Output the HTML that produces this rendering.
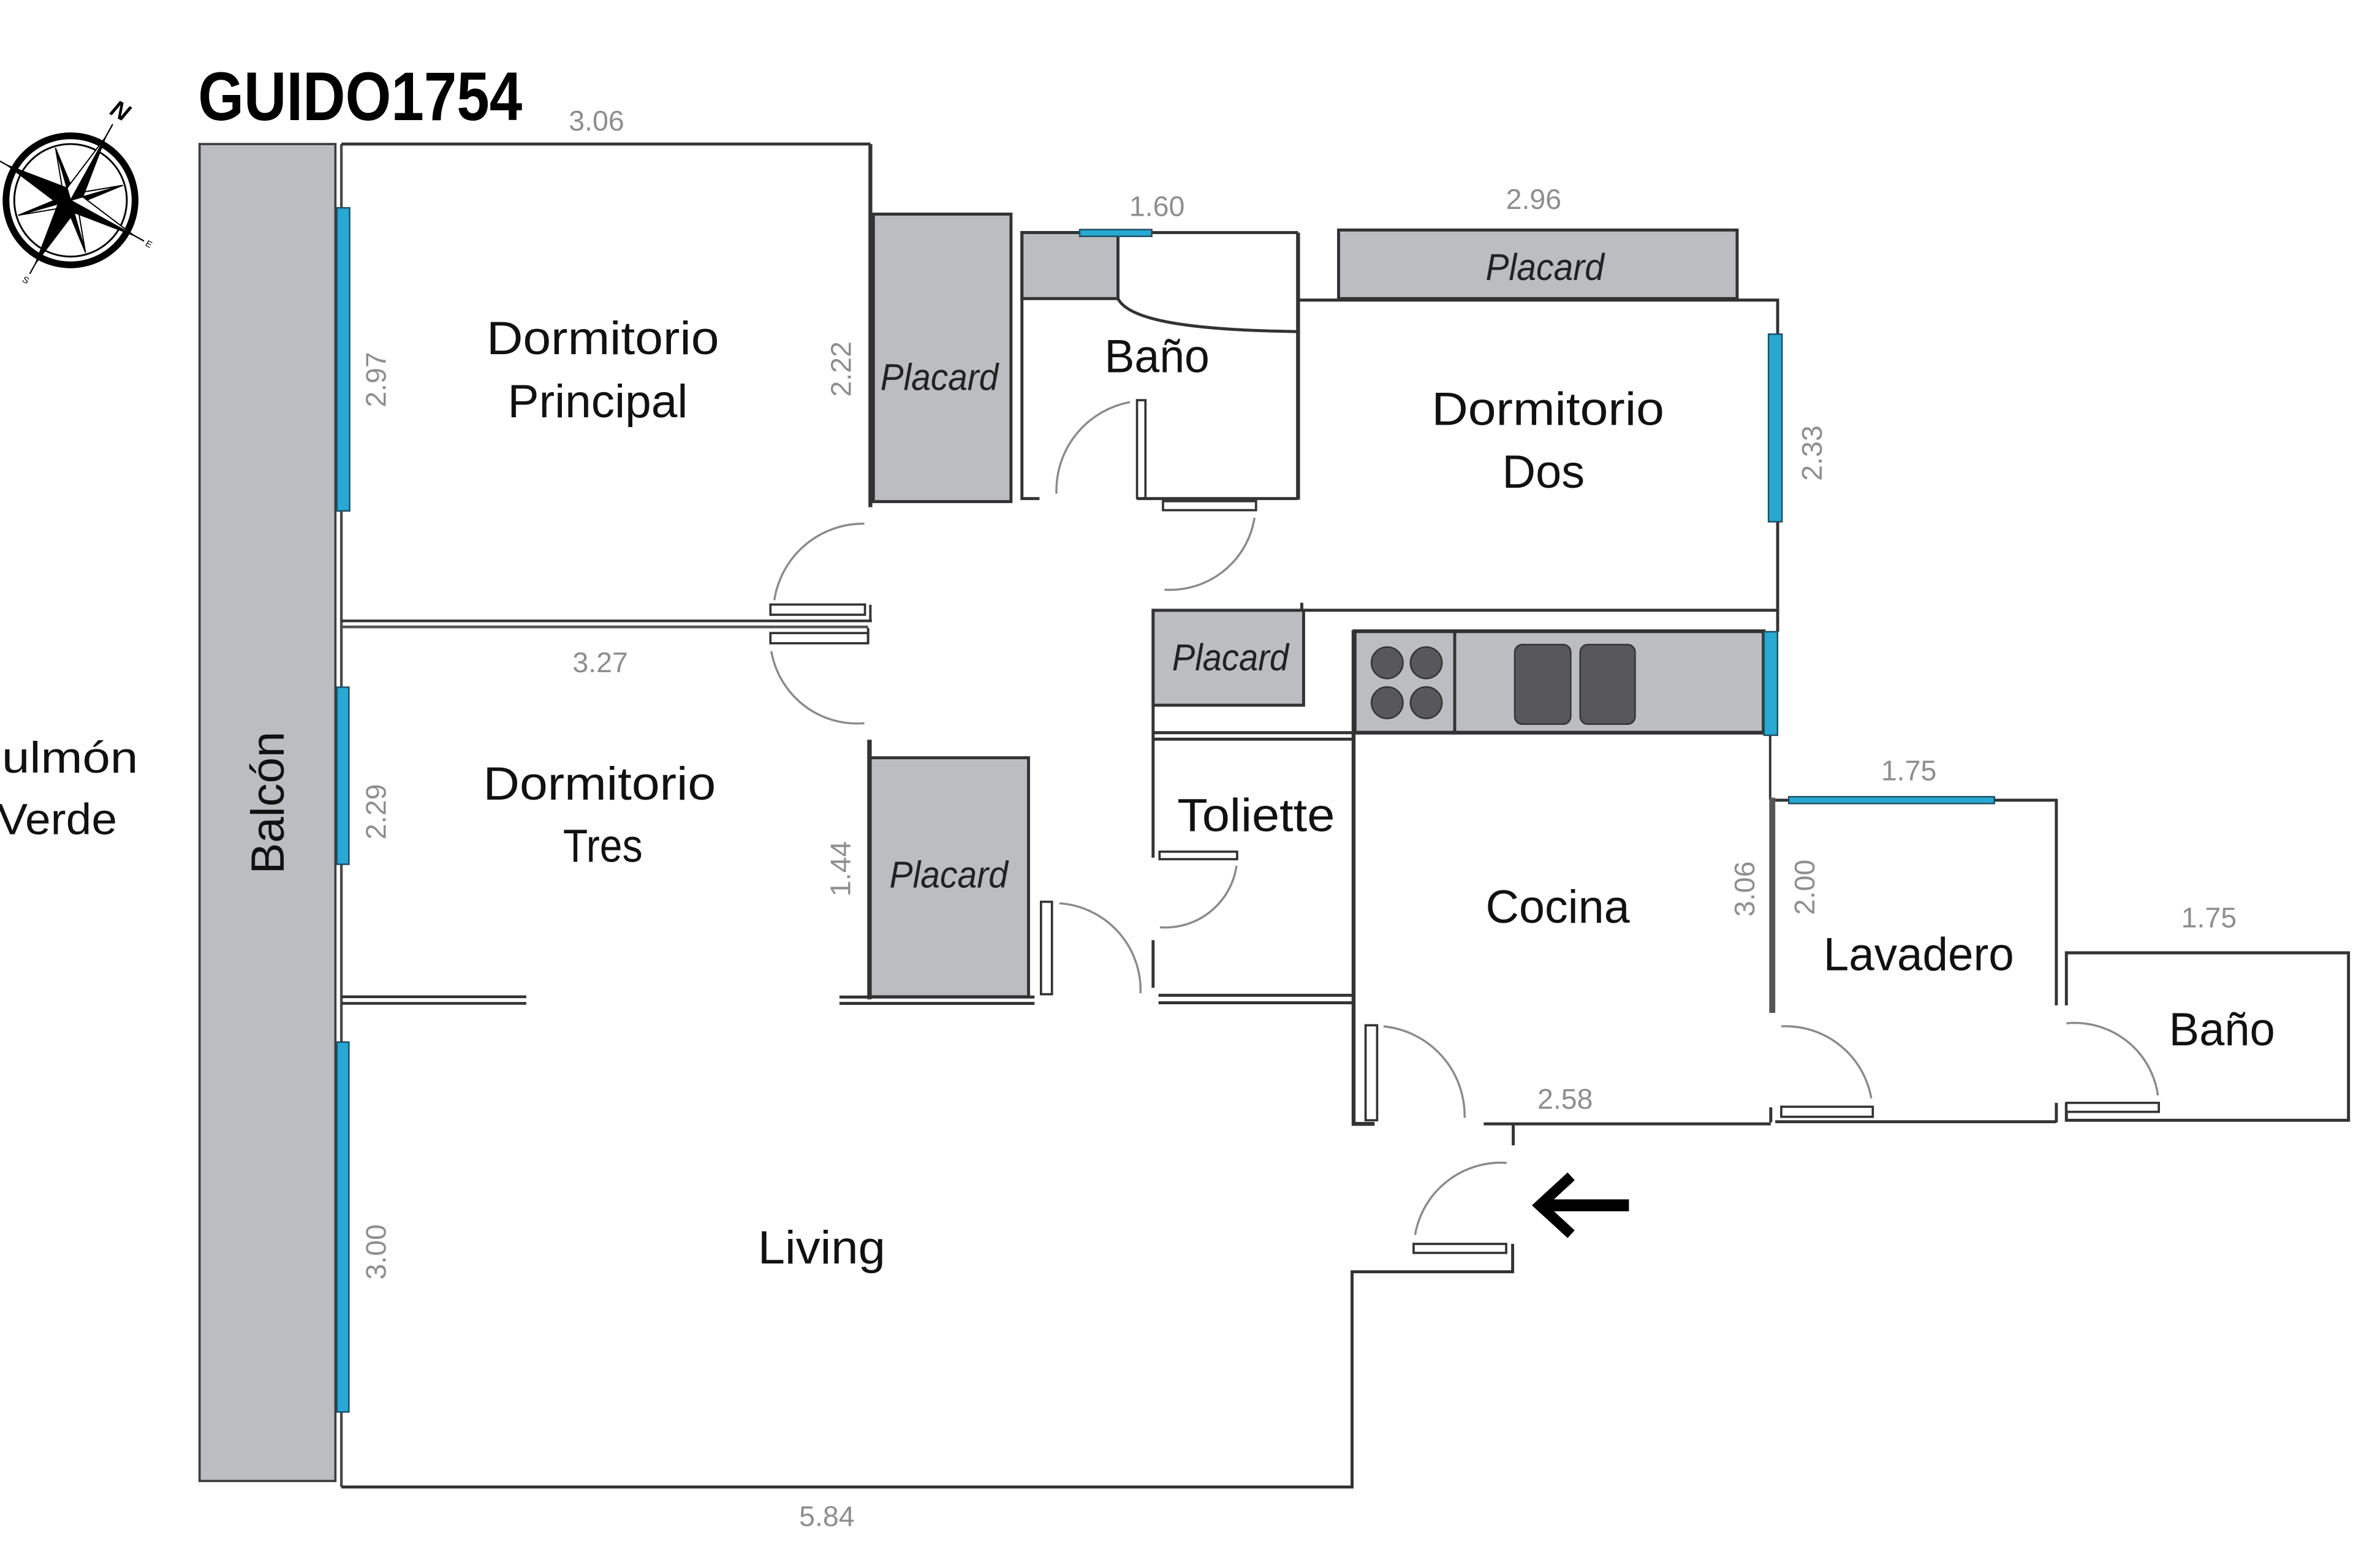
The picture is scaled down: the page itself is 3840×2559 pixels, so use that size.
<!DOCTYPE html>
<html><head><meta charset="utf-8"><style>
html,body{margin:0;padding:0;background:#fff;}
svg{display:block;}
</style></head><body>
<svg width="3840" height="2559" viewBox="0 0 1568 1045" preserveAspectRatio="none" xmlns="http://www.w3.org/2000/svg">
<rect width="1568" height="1045" fill="#fff"/>

<!-- Compass -->
<g transform="translate(47,133.5) rotate(29)">
  <circle r="43" fill="none" stroke="#000" stroke-width="4.5"/>
  <circle r="37.5" fill="none" stroke="#000" stroke-width="1.2"/>
  <line x1="0" y1="-58" x2="0" y2="56" stroke="#000" stroke-width="0.9"/>
  <line x1="-56" y1="0" x2="56" y2="0" stroke="#000" stroke-width="0.9"/>
  <g stroke="#000" stroke-width="0.8" stroke-linejoin="round">
    <g transform="rotate(45)"><polygon points="0,0 0,-36 3.5,-5" fill="#000"/><polygon points="0,0 0,-36 -3.5,-5" fill="#fff"/></g>
    <g transform="rotate(135)"><polygon points="0,0 0,-36 3.5,-5" fill="#000"/><polygon points="0,0 0,-36 -3.5,-5" fill="#fff"/></g>
    <g transform="rotate(225)"><polygon points="0,0 0,-36 3.5,-5" fill="#000"/><polygon points="0,0 0,-36 -3.5,-5" fill="#fff"/></g>
    <g transform="rotate(315)"><polygon points="0,0 0,-36 3.5,-5" fill="#000"/><polygon points="0,0 0,-36 -3.5,-5" fill="#fff"/></g>
    <g><polygon points="0,0 0,-48 6,-6" fill="#000"/><polygon points="0,0 0,-48 -6,-6" fill="#fff"/></g>
    <g transform="rotate(90)"><polygon points="0,0 0,-48 6,-6" fill="#000"/><polygon points="0,0 0,-48 -6,-6" fill="#fff"/></g>
    <g transform="rotate(180)"><polygon points="0,0 0,-48 6,-6" fill="#000"/><polygon points="0,0 0,-48 -6,-6" fill="#000"/></g>
    <g transform="rotate(270)"><polygon points="0,0 0,-48 6,-6" fill="#000"/><polygon points="0,0 0,-48 -6,-6" fill="#000"/></g>
  </g>
</g>
<g font-family="'Liberation Sans', sans-serif" fill="#000">
  <text transform="translate(80,74) rotate(29)" font-size="16" font-weight="bold" font-style="italic" text-anchor="middle" dominant-baseline="central">N</text>
  <text transform="translate(99,163) rotate(29)" font-size="6" text-anchor="middle" dominant-baseline="central">E</text>
  <text transform="translate(17,187) rotate(29)" font-size="6" text-anchor="middle" dominant-baseline="central">S</text>
</g>

<!-- Title -->
<text x="132" y="80" font-family="'Liberation Sans', sans-serif" font-size="46" font-weight="bold" fill="#000" textLength="216" lengthAdjust="spacingAndGlyphs">GUIDO1754</text>

<!-- Pulmon Verde -->
<g font-family="'Liberation Sans', sans-serif" font-size="29" fill="#111">
  <text x="-21" y="515" textLength="113" lengthAdjust="spacingAndGlyphs">Pulmón</text>
  <text x="-2" y="556" textLength="80" lengthAdjust="spacingAndGlyphs">Verde</text>
</g>

<!-- Balcony -->
<rect x="133" y="96" width="90.5" height="891" fill="#bcbdc1" stroke="#3d3d3d" stroke-width="1.5"/>
<text transform="translate(189,535) rotate(-90)" text-anchor="middle" font-family="'Liberation Sans', sans-serif" font-size="31" fill="#111" textLength="95" lengthAdjust="spacingAndGlyphs">Balcón</text>

<!-- Grey fills -->
<g fill="#bcbdc1" stroke="#333" stroke-width="2">
  <rect x="582" y="142.7" width="91.7" height="191.6"/>
  <rect x="681" y="155" width="64" height="44"/>
  <rect x="892" y="153.3" width="265.6" height="45.7"/>
  <rect x="768.4" y="406.7" width="100.3" height="63.3"/>
  <rect x="579.4" y="505" width="106" height="159.3"/>
  <rect x="902.7" y="420.7" width="272.6" height="67.6" stroke-width="2.5"/>
</g>
<!-- Kitchen details -->
<line x1="969.4" y1="420.7" x2="969.4" y2="488.3" stroke="#333" stroke-width="2"/>
<g fill="#58585b" stroke="#333" stroke-width="1">
  <circle cx="924.4" cy="441.7" r="10.5"/>
  <circle cx="950.4" cy="441.7" r="10.5"/>
  <circle cx="924.4" cy="468.3" r="10.5"/>
  <circle cx="950.4" cy="468.3" r="10.5"/>
  <rect x="1009.4" y="429.6" width="37.3" height="53" rx="5"/>
  <rect x="1053" y="429.6" width="36.6" height="53" rx="5"/>
</g>

<!-- Walls -->
<g fill="none" stroke="#333" stroke-width="2" stroke-linecap="butt">
  <line x1="227.5" y1="96" x2="227.5" y2="991" stroke="#4a4a4a" stroke-width="1.8"/>
  <path d="M227.5,96 H580"/>
  <path d="M580,96 V338" stroke-width="2.6"/>
  <path d="M227.5,413.8 H581" stroke-width="1.8"/>
  <path d="M227.5,417.8 H578.5" stroke-width="1.8" stroke="#555"/>
  <path d="M580,403 V414" stroke-width="1.6"/>
  <path d="M578.5,418.5 V428.7" stroke-width="1.6"/>
  <path d="M227.5,664.3 H350.7" stroke-width="1.8"/>
  <path d="M227.5,668.7 H350.7" stroke-width="1.8"/>
  <path d="M227.5,991 H901 V847.6 H1008 V829"/>
  <!-- Bano -->
  <path d="M692.7,332.3 H681 V155 H865"/>
  <path d="M865,155 V333" stroke-width="2.6"/>
  <path d="M757.7,332.3 H865"/>
  <path d="M745,199 C752,213 790,220 865,221"/>
  <!-- Dorm Dos -->
  <path d="M866,200 H1184.6 V421"/>
  <path d="M768.4,406.7 H1184.6"/>
  <path d="M867.5,401.7 V407"/>
  <path d="M768.4,406.7 V571.6"/>
  <path d="M768.4,626.6 V658.3"/>
  <!-- Toliette -->
  <path d="M768.4,488.3 H902"/>
  <path d="M768.4,492.6 H902"/>
  <path d="M772,663.3 H901"/>
  <path d="M772,668.3 H901"/>
  <path d="M902,420 V749 H916" stroke-width="2.6"/>
  <!-- placard 1.44 -->
  <path d="M579.4,493 V666" stroke-width="3"/>
  <path d="M559.4,664.5 H689.4"/>
  <path d="M559.4,668.7 H689.4"/>
  <!-- kitchen bottom, entry -->
  <path d="M988.7,749 H1180"/>
  <path d="M1008.4,749 V763.3"/>
  <path d="M1179.6,490 V533" stroke-width="1.6"/>
  <path d="M1181,531.6 V675" stroke="#555" stroke-width="4"/>
  <!-- Lavadero -->
  <path d="M1183,533.3 H1370.3 V670"/>
  <path d="M1370.3,735 V748"/>
  <path d="M1183,747.6 H1370.3"/>
  <path d="M1180,738 V748"/>
  <!-- Bano 2 -->
  <path d="M1377,670 V635 H1565 V746.6 H1377 V735"/>
</g>

<!-- Windows -->
<g fill="#27a9d3" stroke="#1d4f62" stroke-width="1">
  <rect x="224.5" y="138.5" width="8.5" height="202"/>
  <rect x="224.5" y="458" width="8" height="118"/>
  <rect x="224.5" y="694.5" width="8" height="246.5"/>
  <rect x="719.5" y="153" width="48" height="4.5"/>
  <rect x="1178.5" y="222.7" width="9" height="125"/>
  <rect x="1175.5" y="421" width="9" height="69"/>
  <rect x="1192" y="531" width="137" height="4.5"/>
</g>

<!-- Door leaves -->
<g fill="#fff" stroke="#333" stroke-width="1.5">
  <rect x="513.4" y="402.9" width="63" height="6.8"/>
  <rect x="513.4" y="421.9" width="65" height="6.8"/>
  <rect x="757.7" y="266.7" width="5.6" height="65.3"/>
  <rect x="775" y="334" width="62" height="6"/>
  <rect x="693.7" y="601" width="7.3" height="61.6"/>
  <rect x="772.7" y="567.6" width="51.7" height="5"/>
  <rect x="910" y="683.3" width="7.7" height="63.3"/>
  <rect x="942" y="829" width="61.7" height="6"/>
  <rect x="1187" y="737.6" width="61" height="6.7"/>
  <rect x="1377" y="735" width="61.6" height="6"/>
</g>

<!-- Door arcs -->
<g fill="none" stroke="#8a8a8a" stroke-width="1.4">
  <path d="M516,400 A60,60 0 0 1 576,349"/>
  <path d="M514,434 A58,58 0 0 0 576,482"/>
  <path d="M753,268 A60,60 0 0 0 704,329"/>
  <path d="M836,345 A57,57 0 0 1 776,393"/>
  <path d="M706,602 A58,58 0 0 1 760,662"/>
  <path d="M824,577 A48,48 0 0 1 773,618"/>
  <path d="M922,684 A60,60 0 0 1 976,745"/>
  <path d="M943,823 A58,58 0 0 1 1004,775"/>
  <path d="M1187,684 A58,58 0 0 1 1247,732"/>
  <path d="M1377,682 A56,56 0 0 1 1438,730"/>
</g>

<!-- Entry arrow -->
<path d="M1028,803.3 H1085.5" stroke="#000" stroke-width="8"/>
<polyline points="1047,784 1026,803.3 1047,822.5" fill="none" stroke="#000" stroke-width="7" stroke-linejoin="miter"/>

<!-- Room labels -->
<g font-family="'Liberation Sans', sans-serif" font-size="31" fill="#111" text-anchor="middle">
  <text x="401.7" y="236" textLength="155" lengthAdjust="spacingAndGlyphs">Dormitorio</text>
  <text x="398.3" y="278" textLength="120" lengthAdjust="spacingAndGlyphs">Principal</text>
  <text x="771" y="248" textLength="70" lengthAdjust="spacingAndGlyphs">Baño</text>
  <text x="1031.5" y="283.3" textLength="155" lengthAdjust="spacingAndGlyphs">Dormitorio</text>
  <text x="1028.5" y="325" textLength="55" lengthAdjust="spacingAndGlyphs">Dos</text>
  <text x="399.5" y="533" textLength="155" lengthAdjust="spacingAndGlyphs">Dormitorio</text>
  <text x="401.7" y="574.4" textLength="53" lengthAdjust="spacingAndGlyphs">Tres</text>
  <text x="837" y="554" textLength="105" lengthAdjust="spacingAndGlyphs">Toliette</text>
  <text x="1038" y="615" textLength="96" lengthAdjust="spacingAndGlyphs">Cocina</text>
  <text x="1278.6" y="646.6" textLength="127" lengthAdjust="spacingAndGlyphs">Lavadero</text>
  <text x="1480.7" y="696.6" textLength="70.7" lengthAdjust="spacingAndGlyphs">Baño</text>
  <text x="547.5" y="842" textLength="85" lengthAdjust="spacingAndGlyphs">Living</text>
</g>

<!-- Placard labels -->
<g font-family="'Liberation Sans', sans-serif" font-size="25" font-style="italic" fill="#222" text-anchor="middle">
  <text x="626" y="260" textLength="78.6" lengthAdjust="spacingAndGlyphs">Placard</text>
  <text x="1029.5" y="186.6" textLength="79" lengthAdjust="spacingAndGlyphs">Placard</text>
  <text x="819.9" y="446.7" textLength="77.7" lengthAdjust="spacingAndGlyphs">Placard</text>
  <text x="632.2" y="591.6" textLength="79" lengthAdjust="spacingAndGlyphs">Placard</text>
</g>

<!-- Dimensions -->
<g font-family="'Liberation Sans', sans-serif" font-size="19" fill="#8e8e8e" text-anchor="middle">
  <text x="397.5" y="87">3.06</text>
  <text x="771" y="144">1.60</text>
  <text x="1022" y="139.3">2.96</text>
  <text x="400" y="448">3.27</text>
  <text x="1043" y="739">2.58</text>
  <text x="1272" y="520">1.75</text>
  <text x="1472" y="618">1.75</text>
  <text x="551" y="1017">5.84</text>
  <text transform="translate(257,253) rotate(-90)">2.97</text>
  <text transform="translate(567,246) rotate(-90)">2.22</text>
  <text transform="translate(1214,302) rotate(-90)">2.33</text>
  <text transform="translate(257,541) rotate(-90)">2.29</text>
  <text transform="translate(566.5,579) rotate(-90)">1.44</text>
  <text transform="translate(257,834.4) rotate(-90)">3.00</text>
  <text transform="translate(1169,592.5) rotate(-90)">3.06</text>
  <text transform="translate(1209,591.3) rotate(-90)">2.00</text>
</g>
</svg>
</body></html>
